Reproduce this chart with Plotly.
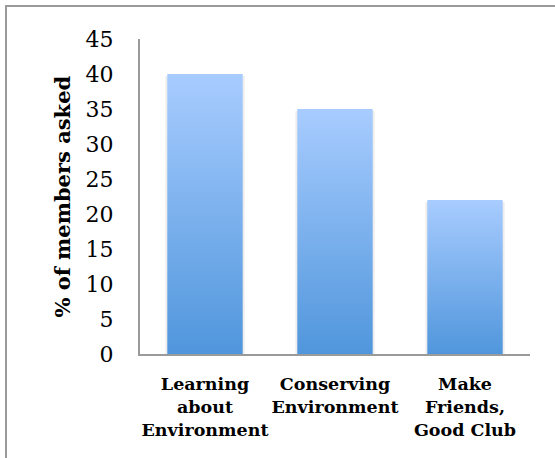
import plotly.graph_objects as go

categories = ["Learning<br>about<br>Environment", "Conserving<br>Environment", "Make<br>Friends,<br>Good Club"]
values = [40, 35, 22]
y_ticks = [0, 5, 10, 15, 20, 25, 30, 35, 40, 45]
y_title = "% of members asked"

W, H = 555, 458
ML, MR, MT, MB = 140, 25, 39, 104
PW, PH = W - ML - MR, H - MT - MB

bar_w = 0.58
fig = go.Figure()

for i, v in enumerate(values):
    # soft shadow
    sw = bar_w + 0.03
    fig.add_trace(go.Scatter(
        x=[i - sw / 2, i + sw / 2, i + sw / 2, i - sw / 2, i - sw / 2],
        y=[-0.6, -0.6, v - 0.3, v - 0.3, -0.6],
        fill="toself", mode="lines", line=dict(width=0),
        fillcolor="rgba(0,0,0,0.07)", hoverinfo="skip", showlegend=False,
    ))
    fig.add_trace(go.Scatter(
        x=[i - bar_w / 2, i + bar_w / 2, i + bar_w / 2, i - bar_w / 2, i - bar_w / 2],
        y=[0, 0, v, v, 0],
        fill="toself", mode="lines", line=dict(width=0),
        fillgradient=dict(type="vertical", colorscale=[[0, "#5096dc"], [1, "#a8ccff"]]),
        showlegend=False, name=categories[i].replace("<br>", " "),
    ))

fig.update_layout(
    width=W, height=H,
    margin=dict(l=ML, r=MR, t=MT, b=MB, autoexpand=False),
    paper_bgcolor="white", plot_bgcolor="white",
    showlegend=False,
    xaxis=dict(
        range=[-0.5, 2.5], tickmode="array", tickvals=list(range(len(categories))),
        ticktext=[f"<b>{c}</b>" for c in categories],
        showgrid=False, zeroline=False, showline=True, linecolor="#9a9a9a", linewidth=2,
        ticks="", ticklabelstandoff=13, tickangle=0, automargin=False,
        tickfont=dict(family="DejaVu Serif", size=17.5, color="black"),
    ),
    yaxis=dict(
        range=[0, 45], tickmode="array", tickvals=y_ticks,
        showgrid=False, zeroline=False, showline=True, linecolor="#9a9a9a", linewidth=2,
        ticks="", ticklabelstandoff=20, automargin=False,
        tickfont=dict(family="DejaVu Serif", size=22, color="black"),
    ),
    annotations=[dict(
        text=f"<b>{y_title}</b>", textangle=-90,
        xref="paper", yref="paper", x=(62 - ML) / PW, y=0.5,
        xanchor="center", yanchor="middle", showarrow=False,
        font=dict(family="DejaVu Serif", size=21, color="black"),
    )],
    shapes=[dict(
        type="rect", xref="paper", yref="paper",
        x0=(6 - ML) / PW, x1=(565 - ML) / PW,
        y0=(MT + PH - 470) / PH, y1=(MT + PH - 6) / PH,
        line=dict(color="#9a9a9a", width=2), fillcolor="rgba(0,0,0,0)",
        layer="below",
    )],
)

fig.write_html("out.html")
